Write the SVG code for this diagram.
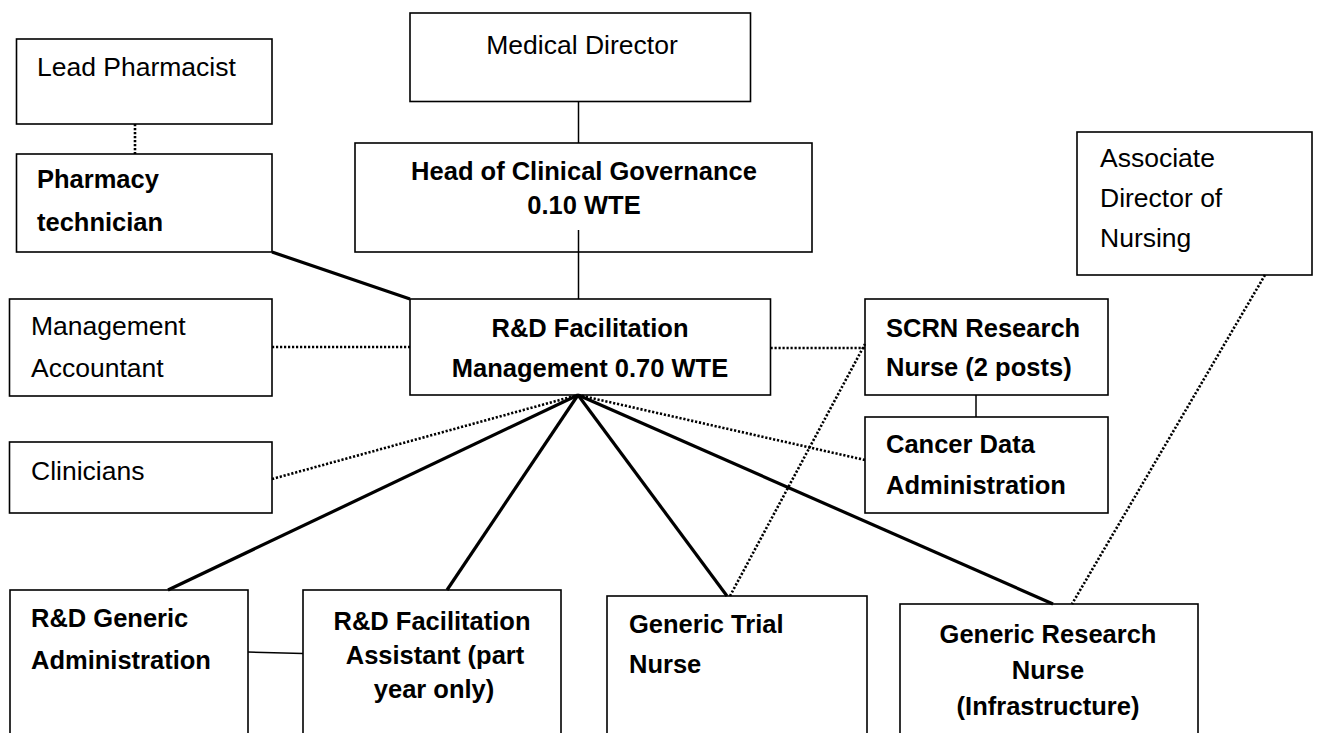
<svg xmlns="http://www.w3.org/2000/svg" width="1333" height="733" viewBox="0 0 1333 733">
  <style>
    .box { fill: #fff; stroke: #000; stroke-width: 1.6; }
    .t { font-family: "Liberation Sans", Arial, sans-serif; font-size: 26.5px; fill: #000; }
    .b { font-weight: bold; font-size: 25.5px; }
    .mid { text-anchor: middle; }
    .ln { fill: none; stroke: #000; stroke-width: 1.5; }
    .thick { stroke-width: 3.2; }
    .dot { stroke-width: 2.6; stroke-dasharray: 2.2 1.8; }
  </style>
  <rect x="0" y="0" width="1333" height="733" fill="#fff"/>

  <g id="nodes">
    <g id="lead-pharmacist">
      <rect class="box" x="16.5" y="39" width="255.5" height="85"/>
      <text class="t" x="37" y="76">Lead Pharmacist</text>
    </g>
    <g id="pharmacy-technician">
      <rect class="box" x="16.5" y="154" width="255.5" height="98"/>
      <text class="t b" x="37" y="188">Pharmacy</text>
      <text class="t b" x="37" y="231">technician</text>
    </g>
    <g id="medical-director">
      <rect class="box" x="410" y="13" width="340.5" height="88.5"/>
      <text class="t mid" x="582" y="54">Medical Director</text>
    </g>
    <g id="head-clinical-governance">
      <rect class="box" x="355" y="143" width="457" height="109"/>
      <text class="t b mid" x="584" y="180">Head of Clinical Governance</text>
      <text class="t b mid" x="584" y="214">0.10 WTE</text>
    </g>
    <g id="rd-facilitation-management">
      <rect class="box" x="410" y="299" width="360.5" height="96"/>
      <text class="t b mid" x="590" y="337">R&amp;D Facilitation</text>
      <text class="t b mid" x="590" y="377">Management 0.70 WTE</text>
    </g>
    <g id="management-accountant">
      <rect class="box" x="9.5" y="299" width="262.5" height="97"/>
      <text class="t" x="31" y="335">Management</text>
      <text class="t" x="31" y="377">Accountant</text>
    </g>
    <g id="clinicians">
      <rect class="box" x="9.5" y="442" width="262.5" height="71"/>
      <text class="t" x="31" y="480">Clinicians</text>
    </g>
    <g id="associate-director-nursing">
      <rect class="box" x="1077" y="132" width="235" height="143"/>
      <text class="t" x="1100" y="167">Associate</text>
      <text class="t" x="1100" y="207">Director of</text>
      <text class="t" x="1100" y="247">Nursing</text>
    </g>
    <g id="scrn-research-nurse">
      <rect class="box" x="865" y="299" width="243" height="96"/>
      <text class="t b" x="886" y="337">SCRN Research</text>
      <text class="t b" x="886" y="376">Nurse (2 posts)</text>
    </g>
    <g id="cancer-data-administration">
      <rect class="box" x="865" y="417" width="243" height="96"/>
      <text class="t b" x="886" y="453">Cancer Data</text>
      <text class="t b" x="886" y="494">Administration</text>
    </g>
    <g id="rd-generic-administration">
      <rect class="box" x="10" y="590" width="238" height="160"/>
      <text class="t b" x="31" y="627">R&amp;D Generic</text>
      <text class="t b" x="31" y="669">Administration</text>
    </g>
    <g id="rd-facilitation-assistant">
      <rect class="box" x="303" y="590" width="258" height="160"/>
      <text class="t b mid" x="432" y="630">R&amp;D Facilitation</text>
      <text class="t b mid" x="435" y="664">Assistant (part</text>
      <text class="t b mid" x="434" y="698">year only)</text>
    </g>
    <g id="generic-trial-nurse">
      <rect class="box" x="607" y="596" width="260" height="160"/>
      <text class="t b" x="629" y="633">Generic Trial</text>
      <text class="t b" x="629" y="673">Nurse</text>
    </g>
    <g id="generic-research-nurse">
      <rect class="box" x="900" y="604" width="298" height="160"/>
      <text class="t b mid" x="1048" y="643">Generic Research</text>
      <text class="t b mid" x="1048" y="679">Nurse</text>
      <text class="t b mid" x="1048" y="715">(Infrastructure)</text>
    </g>
  </g>

  <g id="connectors">
    <!-- solid reporting lines -->
    <line class="ln" x1="578.5" y1="101.5" x2="578.5" y2="143"/>
    <line class="ln" x1="578.5" y1="230" x2="578.5" y2="299"/>
    <line class="ln" x1="976" y1="395" x2="976" y2="417"/>
    <line class="ln" x1="248" y1="652" x2="303" y2="653.5"/>
    <!-- line-management lines -->
    <line class="ln thick" x1="272" y1="252" x2="410" y2="299"/>
    <line class="ln thick" x1="578" y1="395" x2="168" y2="590"/>
    <line class="ln thick" x1="578" y1="395" x2="447" y2="590"/>
    <line class="ln thick" x1="578" y1="395" x2="727" y2="596"/>
    <line class="ln thick" x1="578" y1="395" x2="1053" y2="604"/>
    <!-- professional / liaison links -->
    <line class="ln dot" x1="135" y1="124" x2="135" y2="154"/>
    <line class="ln dot" x1="272" y1="347" x2="410" y2="347"/>
    <line class="ln dot" x1="770.5" y1="348" x2="865" y2="348"/>
    <line class="ln dot" x1="272" y1="479" x2="578" y2="395"/>
    <line class="ln dot" x1="578" y1="395" x2="865" y2="460"/>
    <line class="ln dot" x1="730" y1="596" x2="865" y2="344"/>
    <line class="ln dot" x1="1265" y1="275" x2="1072" y2="604"/>
  </g>
</svg>
